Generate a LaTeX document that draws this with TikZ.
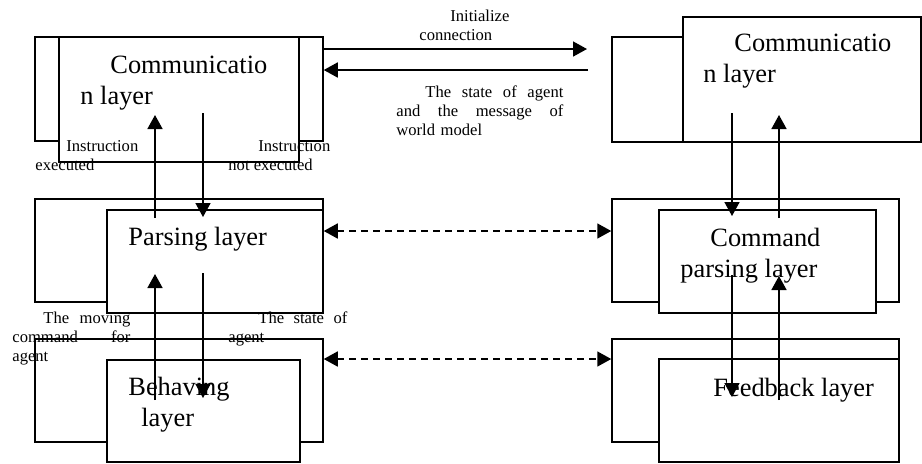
\documentclass[tikz,border=0pt]{standalone}
\usepackage{fontspec}
\setmainfont{Liberation Serif}
\usetikzlibrary{arrows.meta,fit}

\begin{document}
\begin{tikzpicture}[
    x=0.5pt, y=-0.5pt,
    >={Triangle[length=7pt,width=7.5pt]},
    layer/.style={
        draw,
        line width=0.75pt,
        fill=white,
        inner sep=0pt
    },
    boxtext/.style={
        anchor=north west,
        inner sep=0pt,
        align=left,
        font=\fontsize{13.2}{15.5}\selectfont
    },
    note/.style={
        anchor=north west,
        inner sep=0pt,
        align=left,
        font=\fontsize{8.3}{9.5}\selectfont
    },
    flow/.style={->, line width=0.8pt},
    peer/.style={<->, line width=0.8pt, dash pattern=on 3.5pt off 2.5pt}
]
\useasboundingbox (0,0) rectangle (922,463);

% agent side
\node[layer, fit={(35,37) (323,141)}] (commLb) {};
\node[layer, fit={(59,37) (299,162)}] (commLf) {};
\node[layer, fit={(35,199) (323,302)}] (parsLb) {};
\node[layer, fit={(107,210) (323,313)}] (parsLf) {};
\node[layer, fit={(35,339) (323,442)}] (behLb) {};
\node[layer, fit={(107,360) (300,462)}] (behLf) {};

% server side
\node[layer, fit={(612,37) (700,142)}] (commRb) {};
\node[layer, fit={(683,17) (921,142)}] (commRf) {};
\node[layer, fit={(612,199) (899,302)}] (cmdRb) {};
\node[layer, fit={(659,210) (876,313)}] (cmdRf) {};
\node[layer, fit={(612,339) (899,442)}] (fbRb) {};
\node[layer, fit={(659,359) (899,462)}] (fbRf) {};

\node[boxtext] (commLt) at (80,55.5) {\hspace*{15pt}Communicatio\\n layer};
\node[boxtext] (parsLt) at (128,227) {Parsing layer};
\node[boxtext] (behLt) at (128,377) {Behaving\\\hspace*{6.5pt}layer};
\node[boxtext] (commRt) at (703,34) {\hspace*{15.5pt}Communicatio\\n layer};
\node[boxtext] (cmdRt) at (680,227.5) {\hspace*{15pt}Command\\parsing layer};
\node[boxtext] (fbRt) at (713,377.5) {Feedback layer};

% labels
\node[note] (execL) at (35,139.7) {\hspace*{15.5pt}Instruction\\executed};
\node[note] (noexL) at (228,139.7) {\hspace*{15pt}Instruction\\not executed};
\node[note] (initT) at (419,9.7) {\hspace*{15.5pt}Initialize\\connection};
\node[note, text width=83.5pt] (stateT) at (396,85.7) {%
\hspace*{14.5pt}The\hfill state\hfill of\hfill agent\\
and\hfill the\hfill message\hfill of\\
world model};
\node[note, text width=59pt] (moveL) at (12,311.4) {%
\hspace*{15.5pt}The\hfill moving\\
command\hfill for\\
agent};
\node[note, text width=59.5pt] (stateL) at (228,311.4) {%
\hspace*{15pt}The\hfill state\hfill of\\
agent};

% ends of the links inside the boxes
\coordinate (lupA) at (155,218); \coordinate (lupB) at (155,115);
\coordinate (ldnA) at (203,113); \coordinate (ldnB) at (203,217);
\coordinate (lupC) at (155,400); \coordinate (lupD) at (155,274);
\coordinate (ldnC) at (203,273); \coordinate (ldnD) at (203,398);
\coordinate (rdnA) at (732,113); \coordinate (rdnB) at (732,216);
\coordinate (rupA) at (779,218); \coordinate (rupB) at (779,115);
\coordinate (rdnC) at (732,275); \coordinate (rdnD) at (732,397);
\coordinate (rupC) at (779,400); \coordinate (rupD) at (779,276);
\coordinate (initEnd) at (587,49);
\coordinate (replyStart) at (588,70);
\coordinate (peerA) at (0,231);
\coordinate (peerB) at (0,359);

\draw[flow] (lupA) -- (lupB);
\draw[flow] (ldnA) -- (ldnB);
\draw[flow] (lupC) -- (lupD);
\draw[flow] (ldnC) -- (ldnD);
\draw[flow] (rdnA) -- (rdnB);
\draw[flow] (rupA) -- (rupB);
\draw[flow] (rdnC) -- (rdnD);
\draw[flow] (rupC) -- (rupD);

\draw[flow] (commLb.east |- initEnd) -- (initEnd);
\draw[flow] (replyStart) -- (commLb.east |- replyStart);

\draw[peer] (parsLb.east |- peerA) -- (cmdRb.west |- peerA);
\draw[peer] (behLb.east |- peerB) -- (fbRb.west |- peerB);

\end{tikzpicture}
\end{document}
